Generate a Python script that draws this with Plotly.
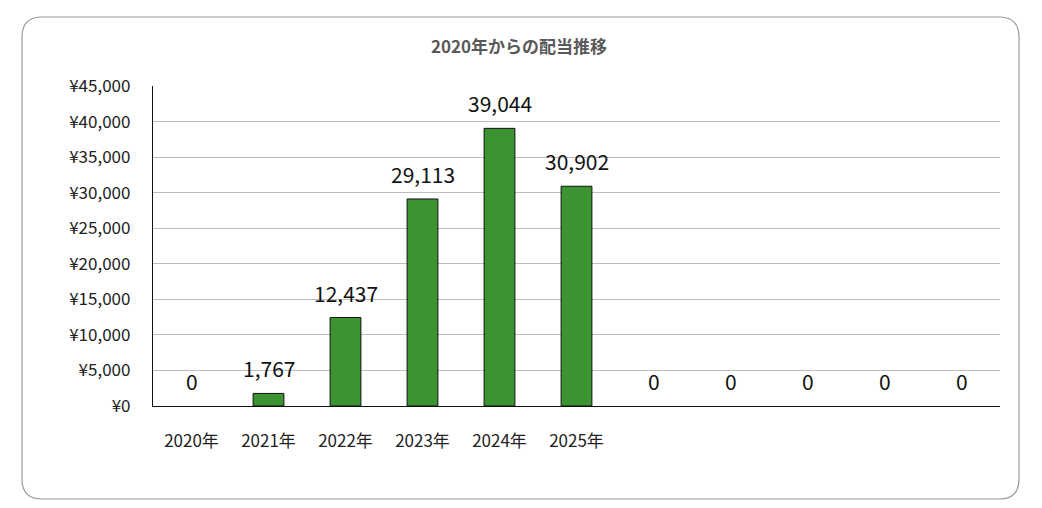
import plotly.graph_objects as go

# data
years = ["2020年", "2021年", "2022年", "2023年", "2024年", "2025年", "", "", "", "", ""]
dividends = [0, 1767, 12437, 29113, 39044, 30902, 0, 0, 0, 0, 0]
y_ticks = [0, 5000, 10000, 15000, 20000, 25000, 30000, 35000, 40000, 45000]

# page body has an 8px margin, so the figure is 8px smaller than the window
W, H = 1034, 500
L, R, T, B = 145, 42, 78, 102
FONT = "Noto Sans CJK JP"

pos = list(range(len(years)))

fig = go.Figure()
fig.add_trace(go.Bar(
    x=pos, y=dividends, width=0.4,
    marker=dict(color="#3c9332",
                line=dict(color="#111111",
                          width=[1 if v else 0 for v in dividends])),
    hoverinfo="skip"))

# value labels floating above each bar
for i, v in zip(pos, dividends):
    fig.add_annotation(x=i, y=v, xref="x", yref="y", text=f"{v:,}",
                       showarrow=False, yanchor="bottom", yshift=8,
                       font=dict(family=FONT, size=21, color="#111111"))

# rounded frame around the whole chart (paper coords)
pw, ph = W - L - R, H - T - B
def px(x): return (x - L) / pw
def py(y): return (H - B - y) / ph
x0, x1, y0, y1, r = 14, 1011, 9, 491, 20
path = (f"M {px(x0 + r)} {py(y0)} L {px(x1 - r)} {py(y0)} "
        f"Q {px(x1)} {py(y0)} {px(x1)} {py(y0 + r)} "
        f"L {px(x1)} {py(y1 - r)} Q {px(x1)} {py(y1)} {px(x1 - r)} {py(y1)} "
        f"L {px(x0 + r)} {py(y1)} Q {px(x0)} {py(y1)} {px(x0)} {py(y1 - r)} "
        f"L {px(x0)} {py(y0 + r)} Q {px(x0)} {py(y0)} {px(x0 + r)} {py(y0)} Z")
fig.add_shape(type="path", path=path, xref="paper", yref="paper",
              line=dict(color="#9a9a9a", width=1.2), layer="below")

fig.update_xaxes(
    range=[-0.5, len(years) - 0.5], tickvals=pos, ticktext=years,
    showgrid=False, showline=True, linecolor="#111111", linewidth=1.2,
    ticks="", ticklabelstandoff=19, zeroline=False,
    tickfont=dict(family=FONT, size=17, color="#222222"))
fig.update_yaxes(
    range=[0, 45000], tickvals=y_ticks,
    ticktext=[f"¥{v:,}" for v in y_ticks],
    showgrid=True, gridcolor="#bdbdbd", gridwidth=1,
    showline=True, linecolor="#111111", linewidth=1.2, zeroline=False,
    ticks="", ticklabelstandoff=18,
    tickfont=dict(family=FONT, size=17, color="#222222"))

fig.update_layout(
    width=W, height=H, margin=dict(l=L, r=R, t=T, b=B),
    paper_bgcolor="white", plot_bgcolor="white", showlegend=False,
    title=dict(text="<b>2020年からの配当推移</b>", x=px(511), xref="paper",
               xanchor="center", y=1 - 39 / H, yanchor="middle",
               font=dict(family=FONT, size=17, color="#595959")),
    font=dict(family=FONT))

fig.write_html("out.html")
